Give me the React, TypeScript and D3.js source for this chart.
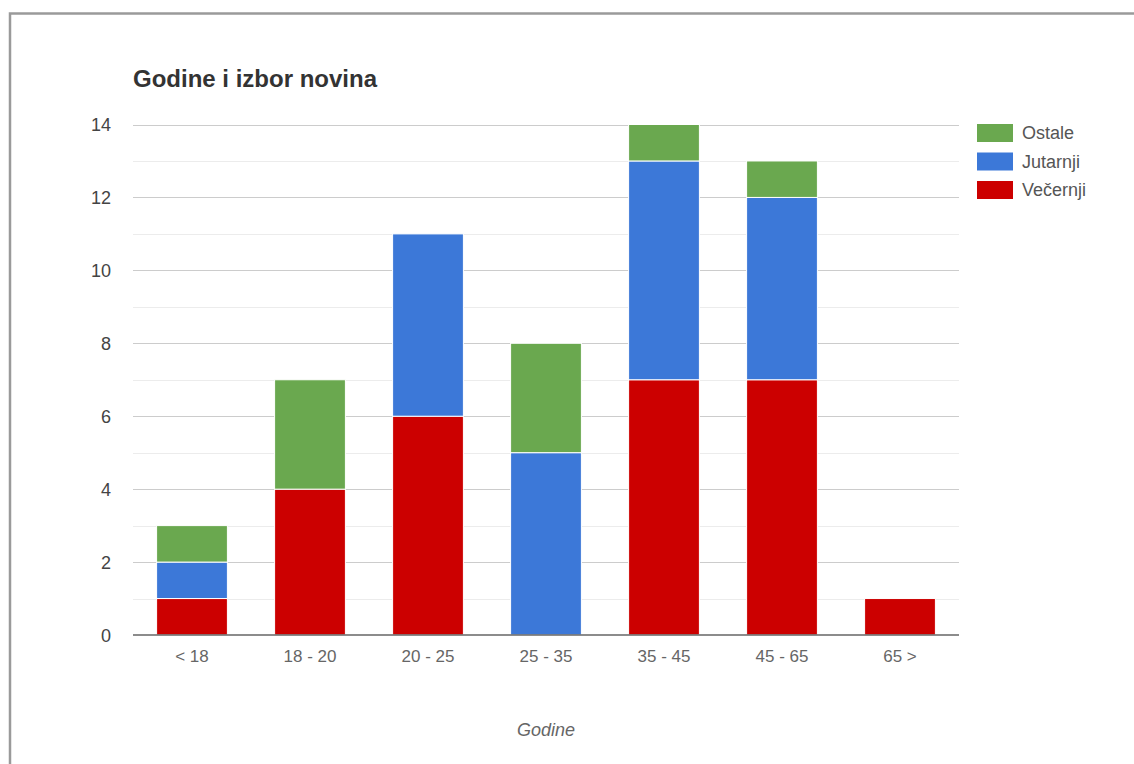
import React, { useEffect, useRef } from 'react';
import * as d3 from 'd3';

const categories = ['< 18', '18 - 20', '20 - 25', '25 - 35', '35 - 45', '45 - 65', '65 >'];
const vecernji = [1, 4, 6, 0, 7, 7, 1];
const jutarnji = [1, 0, 5, 5, 6, 5, 0];
const ostale = [1, 3, 0, 3, 1, 1, 0];
const seriesNames = ['Večernji', 'Jutarnji', 'Ostale'];
const seriesColors = ['#cc0000', '#3c78d8', '#6aa84f'];
const yTicks = [0, 2, 4, 6, 8, 10, 12, 14];

const FONT = 'Arial, "Liberation Sans", sans-serif';

const App: React.FC = () => {
  const svgRef = useRef<SVGSVGElement>(null);

  useEffect(() => {
    if (!svgRef.current) return;
    const width = 1134;
    const height = 764;
    const left = 133;
    const right = 959;
    const top = 124.5;
    const bottom = 635;

    const svg = d3.select(svgRef.current);
    svg.selectAll('*').remove();
    svg.attr('width', width).attr('height', height);

    svg.append('rect').attr('width', width).attr('height', height).attr('fill', '#fff');

    // frame (only top and left visible in the shot)
    svg.append('rect')
      .attr('x', 10).attr('y', 13.5)
      .attr('width', width + 20).attr('height', height + 20)
      .attr('fill', 'none').attr('stroke', '#9a9a9a').attr('stroke-width', 2.5);

    const rows = categories.map((c, i) => ({
      cat: c,
      'Večernji': vecernji[i],
      'Jutarnji': jutarnji[i],
      'Ostale': ostale[i],
    }));

    const x = d3.scaleBand<string>().domain(categories).range([left, right])
      .paddingInner(0.4).paddingOuter(0.2);
    const y = d3.scaleLinear().domain([0, 14]).range([bottom, top]);

    // minor gridlines
    const minor = d3.range(1, 14, 2);
    svg.append('g').selectAll('line').data(minor).join('line')
      .attr('x1', left).attr('x2', right)
      .attr('y1', d => Math.round(y(d)) + 0.5).attr('y2', d => Math.round(y(d)) + 0.5)
      .attr('stroke', '#ececec').attr('stroke-width', 1);

    // major gridlines
    svg.append('g').selectAll('line').data(yTicks.slice(1)).join('line')
      .attr('x1', left).attr('x2', right)
      .attr('y1', d => Math.round(y(d)) + 0.5).attr('y2', d => Math.round(y(d)) + 0.5)
      .attr('stroke', '#cccccc').attr('stroke-width', 1);

    // y tick labels
    svg.append('g').selectAll('text').data(yTicks).join('text')
      .attr('x', 111).attr('y', d => y(d) + 6.5)
      .attr('text-anchor', 'end')
      .style('font-family', FONT)
      .style('font-size', '18px')
      .style('fill', '#444')
      .text(d => d);

    const stack = d3.stack<any>().keys(seriesNames);
    const stacked = stack(rows);

    stacked.forEach((s, si) => {
      svg.append('g').selectAll('rect').data(s.filter(d => d[1] > d[0])).join('rect')
        .attr('x', d => x(d.data.cat) as number)
        .attr('width', x.bandwidth())
        .attr('y', d => y(d[1]))
        .attr('height', d => y(d[0]) - y(d[1]))
        .attr('fill', seriesColors[si])
        .attr('stroke', '#fff').attr('stroke-width', 1);
    });

    // baseline
    svg.append('line')
      .attr('x1', left).attr('x2', right)
      .attr('y1', bottom).attr('y2', bottom)
      .attr('stroke', '#666').attr('stroke-width', 1.5);

    // x labels
    svg.append('g').selectAll('text').data(categories).join('text')
      .attr('x', d => (x(d) as number) + x.bandwidth() / 2)
      .attr('y', 662)
      .attr('text-anchor', 'middle')
      .style('font-family', FONT)
      .style('font-size', '17px')
      .style('fill', '#666')
      .text(d => d);

    // axis title
    svg.append('text')
      .attr('x', (left + right) / 2).attr('y', 736)
      .attr('text-anchor', 'middle')
      .style('font-family', FONT)
      .style('font-size', '18px')
      .style('font-style', 'italic')
      .style('fill', '#666')
      .text('Godine');

    // title
    svg.append('text')
      .attr('x', left).attr('y', 87)
      .style('font-family', FONT)
      .style('font-size', '24px')
      .style('font-weight', 'bold')
      .style('fill', '#333')
      .text('Godine i izbor novina');

    // legend (top to bottom: Ostale, Jutarnji, Večernji)
    const legendItems = [2, 1, 0];
    const lg = svg.append('g').selectAll('g').data(legendItems).join('g')
      .attr('transform', (_d, i) => `translate(977, ${124 + i * 28.5})`);
    lg.append('rect')
      .attr('width', 36).attr('height', 18)
      .attr('fill', d => seriesColors[d]);
    lg.append('text')
      .attr('x', 45).attr('y', 15)
      .style('font-family', FONT)
      .style('font-size', '18px')
      .style('fill', '#555')
      .text(d => seriesNames[d]);
  }, []);

  return (
    <svg ref={svgRef} style={{ position: 'absolute', left: 0, top: 0, display: 'block' }}></svg>
  );
};

export default App;
